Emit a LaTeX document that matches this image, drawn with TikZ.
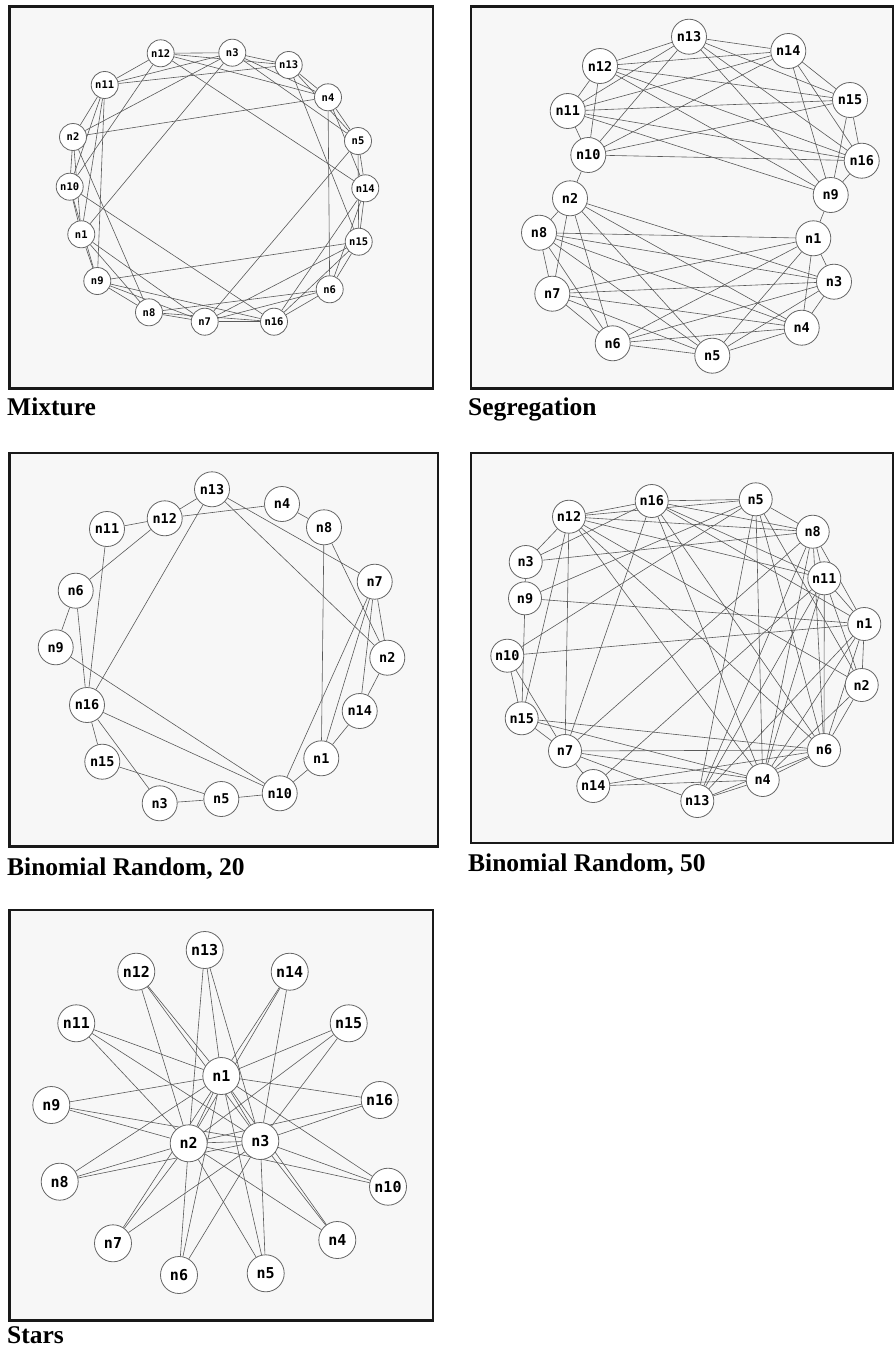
\documentclass[tikz,border=0pt]{standalone}
\usepackage{fontspec}
\setmainfont{Liberation Serif}
\newfontfamily\vfont{DejaVu Sans Mono}

\pgfdeclarelayer{frames}
\pgfdeclarelayer{links}
\pgfsetlayers{frames,links,main}

\begin{document}
\begin{tikzpicture}
      [x = 1pt, y = -1pt,
      panel/.style = {
         draw = black!90,
         line width = 2.7pt,
         fill = black!3
      },
      caption/.style = {
         anchor = base west,
         inner sep = 0pt,
         font = \fontsize{25.5}{27}\selectfont\bfseries
      },
      vtx/.style = {
         draw = black!60,
         fill = white,
         circle,
         inner sep = 0pt,
         line width = 0.8pt,
         minimum size = #1
      },
      link/.style = {draw = black!65, line width = 0.6pt}]
      \useasboundingbox (0, 0) rectangle (894, 1352);

      \begin{pgfonlayer}{frames}
         \draw[panel] (9.5, 6.5) rectangle (433, 388.5);
         \draw[panel] (471, 6.5) rectangle (893.5, 388.5);
         \draw[panel] (9.5, 453) rectangle (438, 846.5);
         \draw[panel] (471, 453) rectangle (893.5, 843);
         \draw[panel] (9.5, 910) rectangle (433, 1320.5);
      \end{pgfonlayer}

      \node[caption] (capmx) at (7, 415) {Mixture};
      \node[caption] (capsg) at (468, 415) {Segregation};
      \node[caption] (capba) at (7, 875) {Binomial Random, 20};
      \node[caption] (capbb) at (468, 871) {Binomial Random, 50};
      \node[caption] (capst) at (7, 1343) {Stars};

      % Mixture
      \foreach \n/\x/\y in {12/160.7/53.3, 3/232.3/52.7, 13/288.7/65, 11/104.7/85,
         4/328/97.3, 2/73/137, 5/358/141, 10/69.7/186.7, 14/365.3/188.3,
         1/81.3/234.3, 15/358.7/241.7, 9/97.3/281, 6/329.7/289.3,
         8/149/312.3, 7/204.7/321.7, 16/274/321.7}
         \node[vtx = 27pt, font = \vfont\bfseries\fontsize{10.5}{10.5}\selectfont]
            (mx\n) at (\x, \y) {n\n};
      \begin{pgfonlayer}{links}
         \foreach \a/\b in {12/3, 12/13, 12/11, 12/4, 12/14, 12/10,
            3/13, 3/4, 3/11, 3/2, 3/1, 3/5, 13/4, 13/5, 13/11, 13/15,
            4/5, 4/14, 4/6, 4/2, 5/14, 5/15, 5/7, 14/15, 14/6, 14/16,
            15/6, 15/16, 15/7, 15/9, 6/16, 6/7, 6/8, 16/7, 16/8, 16/9, 16/10,
            7/8, 7/9, 7/1, 8/9, 8/1, 8/2, 9/1, 9/10, 9/11,
            1/10, 1/2, 1/11, 10/2, 10/11, 2/11}
            \draw[link] (mx\a) -- (mx\b);
      \end{pgfonlayer}

      % Segregation
      \foreach \n/\x/\y in {13/689/36.7, 14/788.3/51, 12/600/66, 15/850/100,
         11/567.7/111, 10/588.3/155, 16/861.7/160.7, 9/830.7/195,
         2/570/198.3, 8/539/232.7, 1/813.3/238.3, 3/834/281.7,
         7/552.3/293.7, 4/801.7/327.7, 6/612.7/343.3, 5/712.3/355.7}
         \node[vtx = 35pt, font = \vfont\bfseries\fontsize{13.5}{13.5}\selectfont]
            (sg\n) at (\x, \y) {n\n};
      \begin{pgfonlayer}{links}
         \foreach \a/\b in {13/14, 13/12, 13/15, 13/11, 13/10, 13/16, 13/9,
            14/12, 14/15, 14/11, 14/10, 14/16, 14/9, 12/15, 12/11, 12/10, 12/16, 12/9,
            15/11, 15/10, 15/16, 15/9, 11/10, 11/16, 11/9, 10/16, 16/9,
            2/8, 2/3, 2/7, 2/4, 2/6, 2/5, 8/1, 8/3, 8/7, 8/4, 8/6, 8/5,
            1/3, 1/7, 1/4, 1/6, 1/5, 3/7, 3/4, 3/6, 3/5, 7/4, 7/6, 7/5,
            4/6, 4/5, 6/5, 10/2, 9/1}
            \draw[link] (sg\a) -- (sg\b);
      \end{pgfonlayer}

      % Binomial Random, 20
      \foreach \n/\x/\y in {13/212/489.3, 4/282/504, 12/164.7/518.3, 8/324/527.3,
         11/107/529, 7/374.7/581.7, 6/75.7/590.7, 9/55.7/647.3, 2/387.3/657.7,
         16/87/705, 14/359.7/711, 1/321.3/758.3, 15/102.3/761.7,
         10/279.7/793.3, 5/221.3/799, 3/159.7/803.3}
         \node[vtx = 35pt, font = \vfont\bfseries\fontsize{13.5}{13.5}\selectfont]
            (ba\n) at (\x, \y) {n\n};
      \begin{pgfonlayer}{links}
         \foreach \a/\b in {13/12, 12/11, 12/4, 12/6, 4/8, 13/7, 13/2, 13/16,
            8/1, 8/2, 7/2, 7/14, 7/1, 7/10, 2/14, 14/1, 1/10, 10/5, 5/3, 5/15,
            16/15, 16/3, 16/10, 9/10, 6/9, 6/16, 11/16}
            \draw[link] (ba\a) -- (ba\b);
      \end{pgfonlayer}

      % Binomial Random, 50
      \foreach \n/\x/\y in {16/651.7/501, 5/755.7/499.3, 12/569/516.7, 8/812.7/531.7,
         3/525.7/562, 11/824.3/578.3, 9/525/598.3, 1/864.3/624,
         10/507.3/655.7, 2/861.7/685, 15/521.7/718.3, 7/565/751,
         6/824/750, 4/762.7/780, 14/593.3/786, 13/697.3/801}
         \node[vtx = 33pt, font = \vfont\bfseries\fontsize{13.5}{13.5}\selectfont]
            (bb\n) at (\x, \y) {n\n};
      \begin{pgfonlayer}{links}
         \foreach \a/\b in {16/5, 16/12, 16/3, 16/8, 16/11, 16/1, 16/7, 16/4, 16/6,
            5/12, 5/9, 5/10, 5/8, 5/13, 5/4, 5/6, 5/2,
            12/3, 12/8, 12/11, 12/2, 12/6, 12/4, 12/7, 12/15,
            8/3, 8/11, 8/1, 8/6, 8/4, 8/13, 8/7,
            11/1, 11/6, 11/4, 11/13, 11/14, 11/2, 3/9, 9/1, 9/15,
            1/10, 1/2, 1/6, 1/4, 1/13, 2/6, 2/4, 10/15, 10/7,
            15/6, 15/7, 15/4, 7/6, 7/4, 7/13, 7/14, 6/4, 6/14, 6/13, 4/13, 4/14}
            \draw[link] (bb\a) -- (bb\b);
      \end{pgfonlayer}

      % Stars
      \foreach \n/\x/\y in {13/204.7/950, 12/136.3/971.7, 14/289.7/971.7,
         11/76.3/1023.3, 15/348.7/1023.3, 1/221.3/1076, 9/51.3/1105,
         16/379.7/1100, 2/188.7/1143.3, 3/260.3/1141, 8/59.7/1181.7,
         10/388/1186.7, 7/113/1243.3, 4/337.3/1240, 6/179/1275, 5/265.7/1273.3}
         \node[vtx = 37pt, font = \vfont\bfseries\fontsize{15}{15}\selectfont]
            (st\n) at (\x, \y) {n\n};
      \begin{pgfonlayer}{links}
         \draw[link] (st1) -- (st2) (st1) -- (st3) (st2) -- (st3);
         \foreach \p in {4,...,16}
            \foreach \h in {1,2,3}
               \draw[link] (st\p) -- (st\h);
      \end{pgfonlayer}

   \end{tikzpicture}
\end{document}
